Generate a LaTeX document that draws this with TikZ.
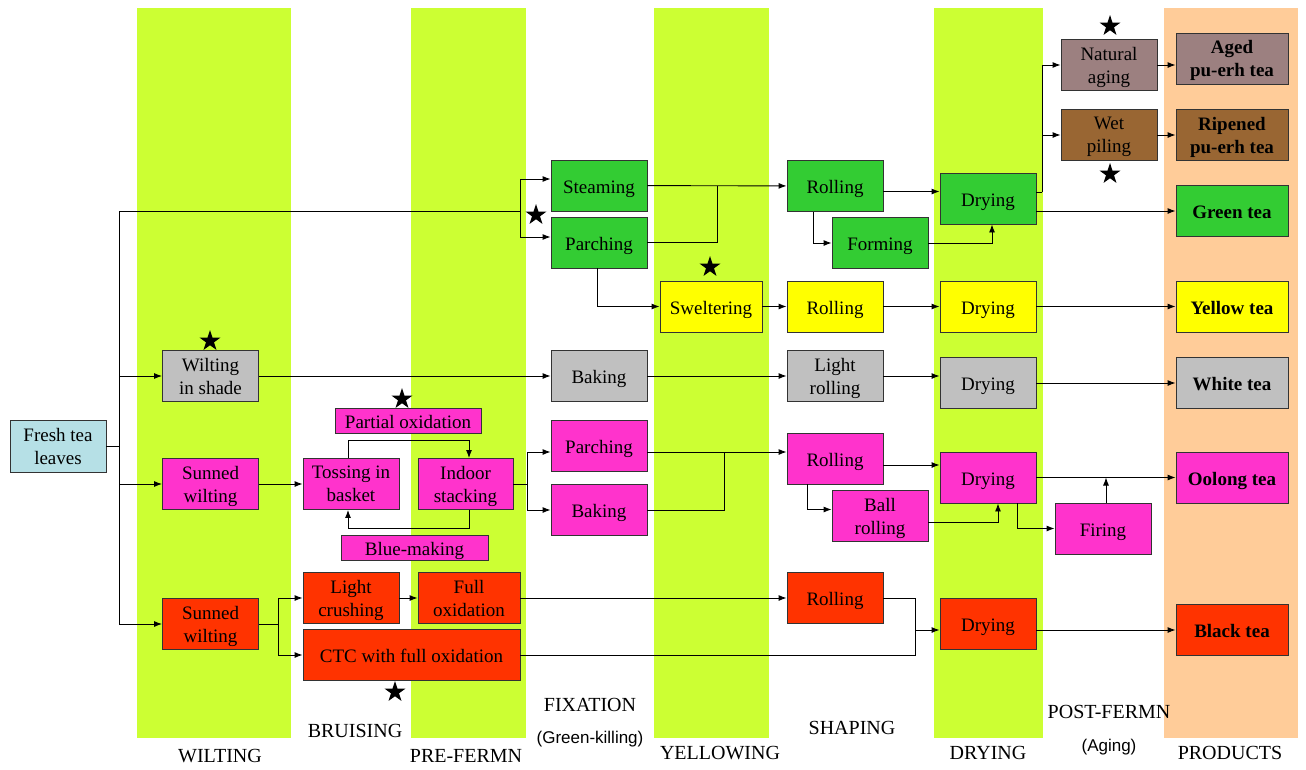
\documentclass[tikz,border=0pt]{standalone}
\usepackage{fontspec}
\setmainfont{Liberation Serif}
\newfontfamily\capsans{Liberation Sans}
\usetikzlibrary{positioning,arrows.meta,shapes.geometric}

\definecolor{lime}{RGB}{204,255,51}
\definecolor{peach}{RGB}{255,204,153}
\definecolor{freshblue}{RGB}{182,224,230}
\definecolor{grn}{RGB}{51,204,51}
\definecolor{yel}{RGB}{255,255,0}
\definecolor{gry}{RGB}{192,192,192}
\definecolor{mag}{RGB}{255,51,204}
\definecolor{rd}{RGB}{255,51,0}
\definecolor{mauve}{RGB}{156,128,128}
\definecolor{brwn}{RGB}{153,102,51}

\tikzset{
  stage/.style={draw=black!80, line width=0.9pt, minimum width=96pt, minimum height=51pt,
    inner sep=1pt, align=center, text depth=0pt, font=\rmfamily\fontsize{19}{23}\selectfont},
  oneline/.style={text height=15pt},
  product/.style={stage, minimum width=112pt, font=\rmfamily\fontsize{19}{23}\selectfont\bfseries},
  flow/.style={line width=0.9pt, -{Latex[length=8pt,width=6pt]}},
  link/.style={line width=0.9pt},
  starmark/.style={star, star points=5, star point ratio=2.6, fill=black, inner sep=0pt, minimum size=22pt},
  phase/.style={font=\rmfamily\fontsize{20}{22}\selectfont},
  subphase/.style={font=\capsans\fontsize{17}{20}\selectfont},
}

\begin{document}
\begin{tikzpicture}[x=1pt,y=-1pt]
\useasboundingbox (0,0) rectangle (1306,769);
\def\ytop{8}
\def\ybot{738}

% columns
\fill[lime] (137,\ytop) rectangle (291,\ybot);
\fill[lime] (411,\ytop) rectangle (526,\ybot);
\fill[lime] (654,\ytop) rectangle (769,\ybot);
\fill[lime] (934,\ytop) rectangle (1043,\ybot);
\fill[peach] (1164,\ytop) rectangle (1298,\ybot);

% phase names
\node[phase] (lbwilt) at (220,756) {WILTING};
\node[phase] (lbbruise) at (355,731) {BRUISING};
\node[phase] (lbpre) at (466,756) {PRE-FERMN};
\node[phase] (lbfix) at (590,705) {FIXATION};
\node[subphase] (lbgk) at (590,739) {(Green-killing)};
\node[phase] (lbyel) at (720,753) {YELLOWING};
\node[phase] (lbshape) at (852,728) {SHAPING};
\node[phase] (lbdry) at (988,753) {DRYING};
\node[phase] (lbpost) at (1109,712) {POST-FERMN};
\node[subphase] (lbaging) at (1109,747) {(Aging)};
\node[phase] (lbprod) at (1230,753) {PRODUCTS};

% wilting / bruising
\node[stage, fill=freshblue, minimum height=52pt] (fresh) at (58,446) {Fresh tea\\leaves};
\node[stage, fill=gry] (wshade) at (210.5,376) {Wilting\\in shade};
\node[stage, fill=mag] (sunw) at (210.5,484) {Sunned\\wilting};
\node[stage, fill=rd] (redw) at (210.5,624) {Sunned\\wilting};
\node[stage, fill=mag] (toss) at (351,484) {Tossing in\\basket};
\node[stage, fill=mag, minimum width=95pt] (stack) at (465.5,484) {Indoor\\stacking};
\node[stage, oneline, fill=mag, minimum width=146pt, minimum height=25pt] (partox) at (408,420.5) {Partial oxidation};
\node[stage, oneline, fill=mag, minimum width=147pt, minimum height=25pt] (bluemk) at (414.5,547.5) {Blue-making};
\node[stage, fill=rd] (crush) at (351,598) {Light\\crushing};
\node[stage, fill=rd, minimum width=102pt] (fullox) at (469,598) {Full\\oxidation};
\node[stage, oneline, fill=rd, minimum width=217pt] (ctc) at (411.5,655) {CTC with full oxidation};

% fixation / yellowing
\node[stage, oneline, fill=grn] (steam) at (599,185.5) {Steaming};
\node[stage, oneline, fill=grn] (parchg) at (599,242.5) {Parching};
\node[stage, oneline, fill=yel, minimum width=102pt] (swelt) at (711,306.5) {Sweltering};
\node[stage, oneline, fill=gry] (bakew) at (599,376) {Baking};
\node[stage, oneline, fill=mag] (parchm) at (599,446) {Parching};
\node[stage, oneline, fill=mag] (bakem) at (599,510) {Baking};

% shaping
\node[stage, oneline, fill=grn] (rollg) at (835,186) {Rolling};
\node[stage, oneline, fill=grn] (form) at (880,243) {Forming};
\node[stage, oneline, fill=yel] (rolly) at (835,306.5) {Rolling};
\node[stage, fill=gry] (lroll) at (835,376) {Light\\rolling};
\node[stage, oneline, fill=mag] (rollm) at (835,458.5) {Rolling};
\node[stage, fill=mag] (ball) at (880,516) {Ball\\rolling};
\node[stage, oneline, fill=rd] (rollr) at (835,598) {Rolling};

% drying
\node[stage, oneline, fill=grn] (dryg) at (988,198.5) {Drying};
\node[stage, oneline, fill=yel] (dryy) at (988,306.5) {Drying};
\node[stage, oneline, fill=gry] (dryw) at (988,383) {Drying};
\node[stage, oneline, fill=mag] (drym) at (988,477.5) {Drying};
\node[stage, oneline, fill=mag] (fire) at (1103,528.5) {Firing};
\node[stage, oneline, fill=rd] (dryr) at (988,624) {Drying};

% post-fermentation
\node[stage, fill=mauve] (natage) at (1109,65) {Natural\\aging};
\node[stage, fill=brwn] (wetpile) at (1109,135) {Wet\\piling};

% products
\node[product, fill=mauve] (aged) at (1232,58.5) {Aged\\pu-erh tea};
\node[product, fill=brwn] (ripe) at (1232,135) {Ripened\\pu-erh tea};
\node[product, oneline, fill=grn] (gtea) at (1232,211) {Green tea};
\node[product, oneline, fill=yel] (ytea) at (1232,306.5) {Yellow tea};
\node[product, oneline, fill=gry] (wtea) at (1232,383) {White tea};
\node[product, oneline, fill=mag] (otea) at (1232,477.5) {Oolong tea};
\node[product, oneline, fill=rd] (btea) at (1232,630) {Black tea};

% stars
\node[starmark] (stnat) at (1110,26) {};
\node[starmark] (stwet) at (1110,174) {};
\node[starmark] (stfix) at (536,215) {};
\node[starmark] (stswelt) at (710,267) {};
\node[starmark] (stshade) at (210,341) {};
\node[starmark] (stpart) at (402,399) {};
\node[starmark] (stctc) at (395,692) {};

% trunk from fresh leaves
\coordinate (trunk) at (119,446);
\coordinate (fix) at (520,211);
\draw[link] (fresh.east) -- (trunk);
\draw[link] (trunk |- fix) -- (trunk |- redw);
\draw[link] (trunk |- fix) -- (fix);
\draw[flow] (trunk |- wshade) -- (wshade);
\draw[flow] (trunk |- sunw) -- (sunw);
\draw[flow] (trunk |- redw) -- (redw);

% green tea
\coordinate (fixtop) at (520,179);
\coordinate (fixbot) at (520,237);
\draw[link] (fixtop) -- (fixbot);
\draw[flow] (fixtop) -- (fixtop -| steam.west);
\draw[flow] (fixbot) -- (fixbot -| parchg.west);
\draw[flow] (steam) -- (rollg);
\coordinate (gjoin) at (717,186);
\draw[link] (parchg.east) -| (gjoin);
\coordinate (rg) at ([yshift=-5.5pt]rollg.east);
\draw[flow] (rg) -- (rg -| dryg.west);
\draw[flow] ([xshift=-22pt]rollg.south) |- (form.west);
\draw[flow] (form.east) -| ([xshift=4pt]dryg.south);
\draw[flow] (dryg.east |- gtea) -- (gtea);

% post-fermented
\coordinate (pf) at (1042,192);
\draw[link] ([yshift=6.5pt]dryg.east) -- (pf);
\draw[flow] (pf) |- (natage);
\draw[flow] (pf) |- (wetpile);
\draw[flow] (natage) -- (natage -| aged.west);
\draw[flow] (wetpile) -- (ripe);

% yellow tea
\draw[flow] ([xshift=-2pt]parchg.south) |- (swelt.west);
\draw[flow] (swelt) -- (rolly);
\draw[flow] (rolly) -- (dryy);
\draw[flow] (dryy) -- (ytea);

% white tea
\draw[flow] (wshade) -- (bakew);
\draw[flow] (bakew) -- (lroll);
\draw[flow] (lroll) -- (lroll -| dryw.west);
\draw[flow] (dryw) -- (wtea);

% oolong tea
\draw[flow] (sunw) -- (toss);
\coordinate (tu) at (348,440);
\draw[flow] (tu |- toss.north) -- (tu) -| ([xshift=3.5pt]stack.north);
\coordinate (bd) at (469,528);
\draw[flow] (bd |- stack.south) -- (bd) -| ([xshift=-3pt]toss.south);
\coordinate (pa) at (527,452);
\coordinate (pb) at (527,510);
\draw[link] (stack.east) -- (stack.east -| pa);
\draw[link] (pa) -- (pb);
\draw[flow] (pa) -- (pa -| parchm.west);
\draw[flow] (pb) -- (bakem);
\draw[flow] (pa -| parchm.east) -- (pa -| rollm.west);
\coordinate (mjoin) at (724,452);
\draw[link] (bakem.east) -| (mjoin);
\coordinate (rm) at ([yshift=-6.5pt]rollm.east);
\draw[flow] (rm) -- (rm -| drym.west);
\draw[flow] ([xshift=-28pt]rollm.south) |- ([yshift=6.5pt]ball.west);
\draw[flow] ([yshift=-6pt]ball.east) -| ([xshift=10pt]drym.south);
\draw[flow] (drym) -- (otea);
\draw[flow] ([xshift=29pt]drym.south) |- (fire.west);
\draw[flow] ([xshift=3pt]fire.north) -- ([xshift=3pt]fire.north |- otea);

% black tea
\coordinate (rtop) at (278,598);
\coordinate (rbot) at (278,655);
\draw[link] (redw.east) -- (redw.east -| rtop);
\draw[link] (rtop) -- (rbot);
\draw[flow] (rtop) -- (crush);
\draw[flow] (rbot) -- (ctc);
\draw[flow] (crush) -- (fullox);
\draw[flow] (fullox) -- (rollr);
\coordinate (rr) at (915,630);
\draw[link] (rollr.east) -| (rr |- ctc) -- (ctc.east);
\draw[flow] (rr) -- (rr -| dryr.west);
\draw[flow] (dryr.east |- btea) -- (btea);
\end{tikzpicture}
\end{document}
